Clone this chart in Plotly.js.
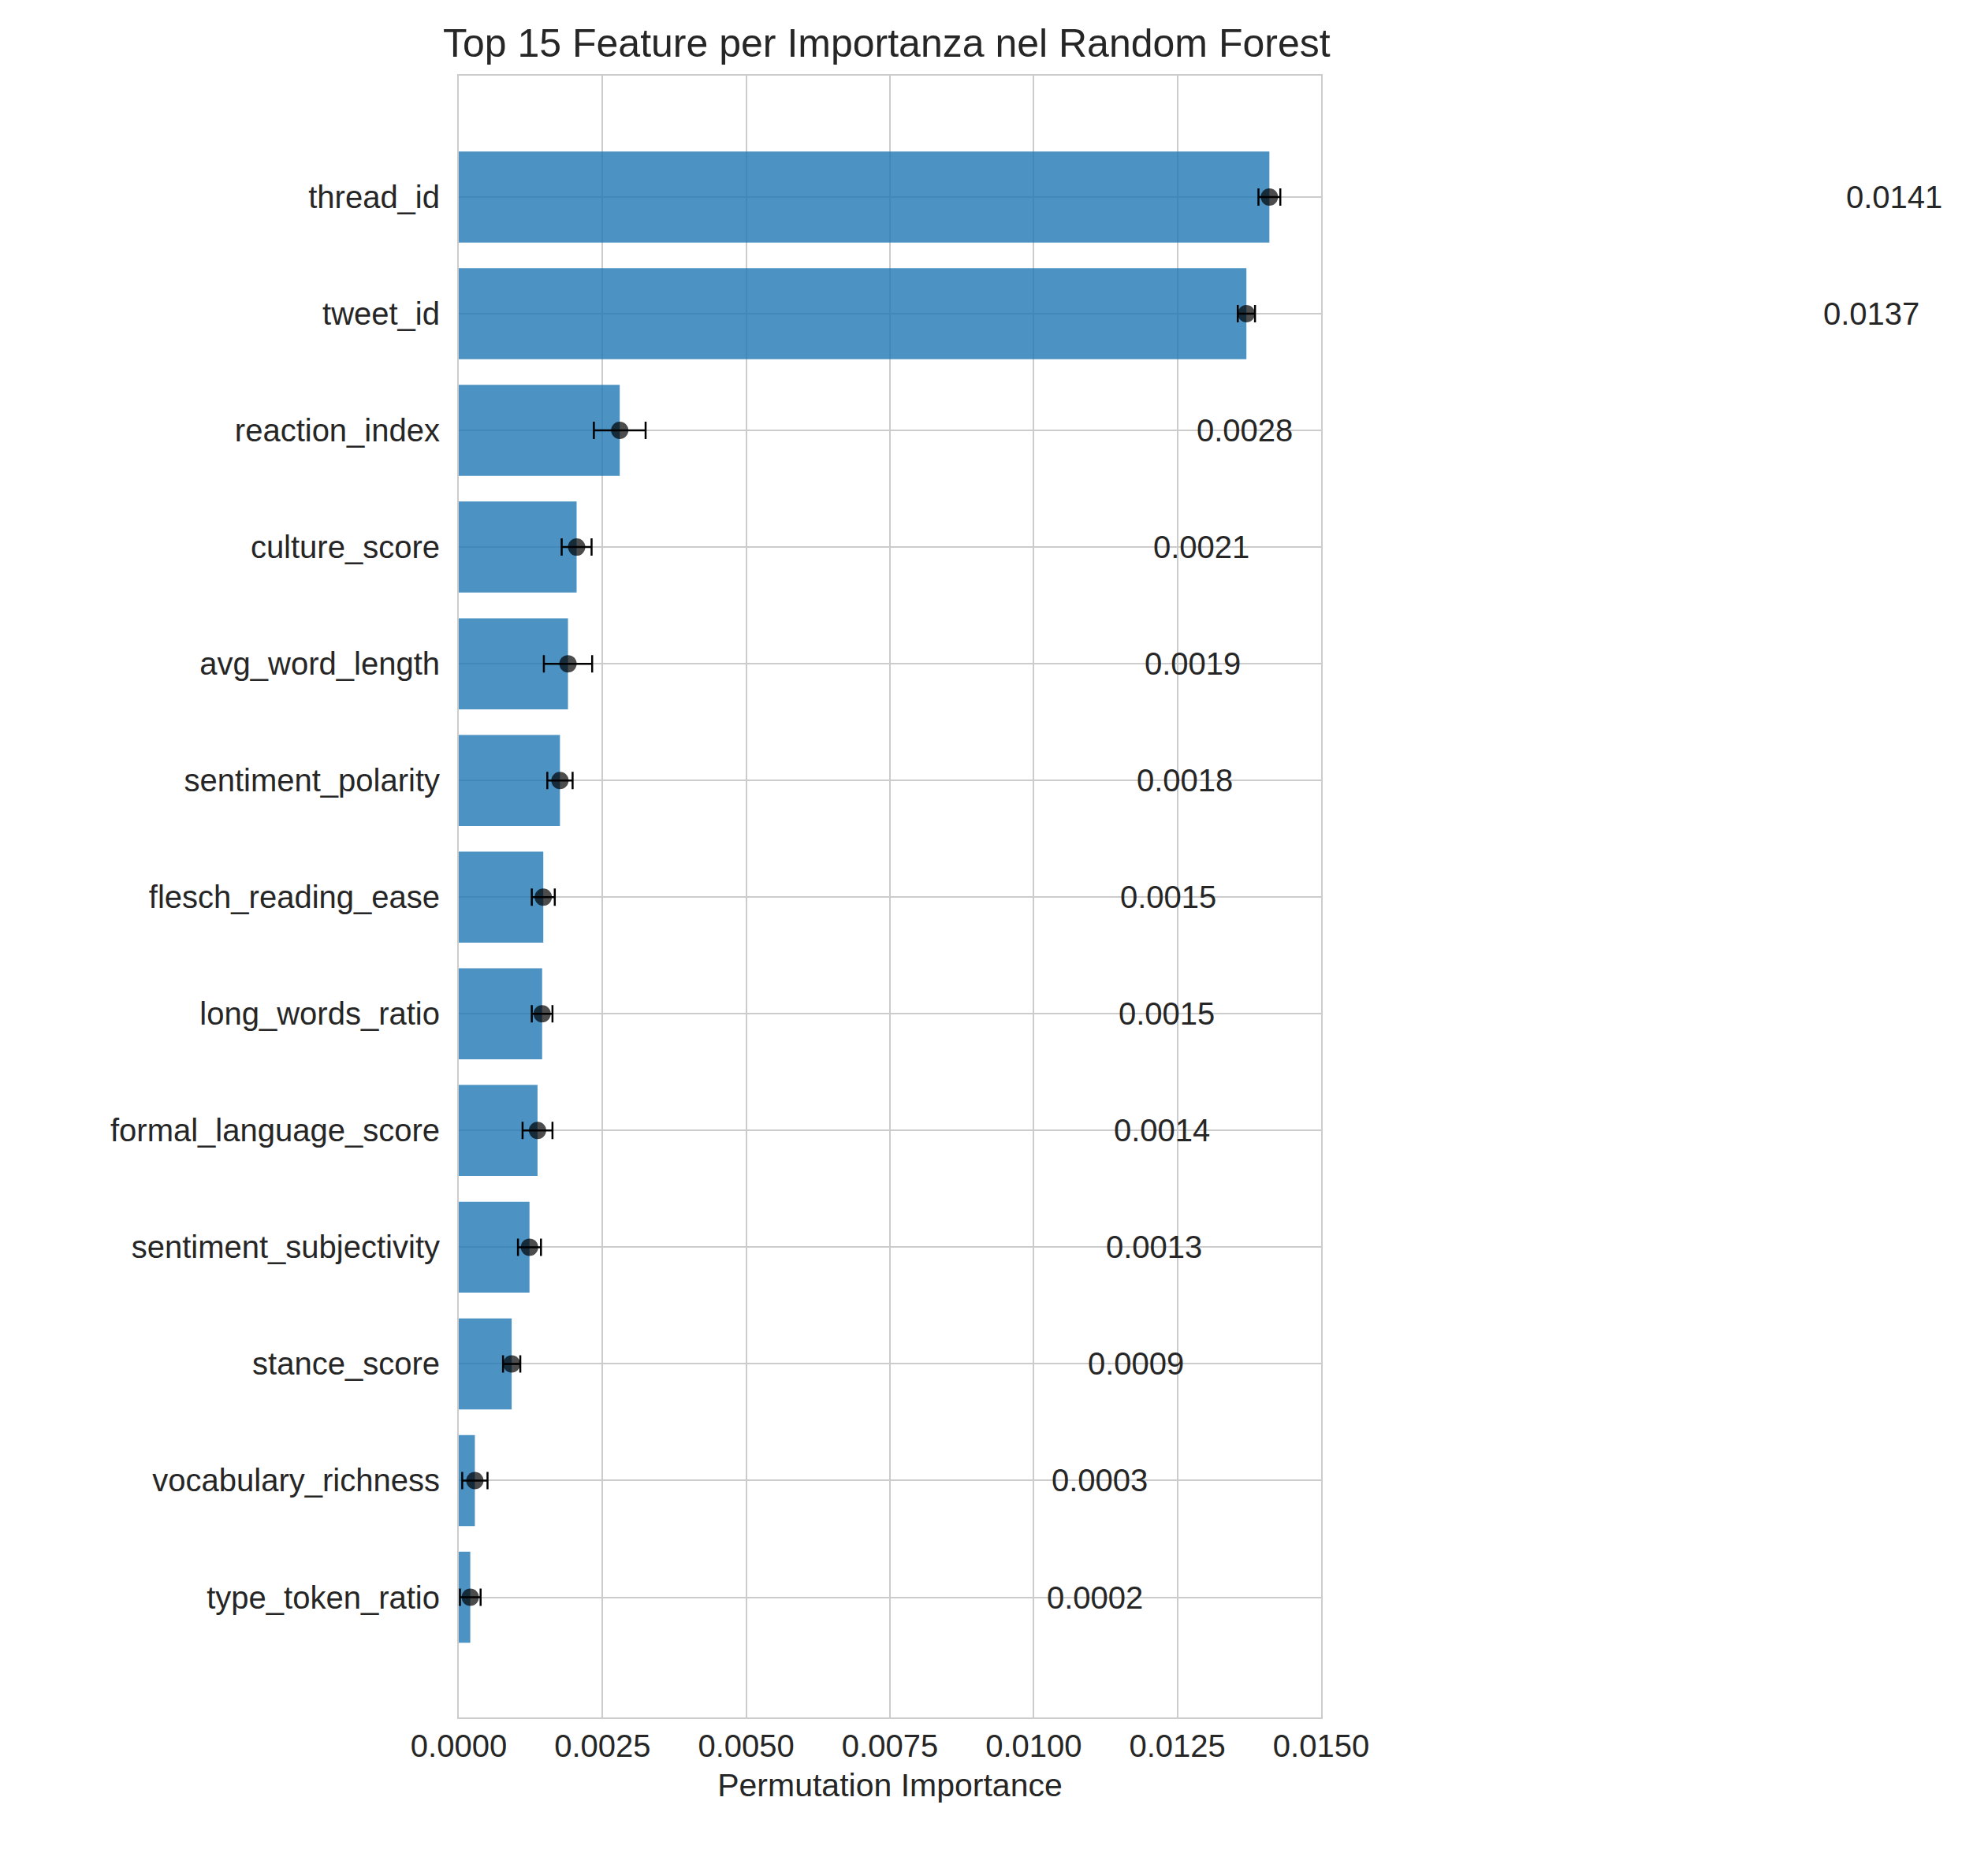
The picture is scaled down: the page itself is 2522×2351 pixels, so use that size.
<!DOCTYPE html>
<html>
<head>
<meta charset="utf-8">
<script src="https://cdn.plot.ly/plotly-3.0.1.min.js"></script>
<style>body{margin:0;background:#fff}#chart{width:2522px;height:2351px}</style>
</head>
<body>
<div id="chart"></div>
<script>
'use strict';

const features = ['thread_id', 'tweet_id', 'reaction_index', 'culture_score', 'avg_word_length',
  'sentiment_polarity', 'flesch_reading_ease', 'long_words_ratio', 'formal_language_score',
  'sentiment_subjectivity', 'stance_score', 'vocabulary_richness', 'type_token_ratio'];
const importance = [0.0141, 0.0137, 0.0028, 0.00205, 0.0019, 0.00176, 0.00147, 0.00145,
  0.00137, 0.00123, 0.00092, 0.00028, 0.0002];
const errors = [0.00019, 0.00015, 0.00045, 0.00026, 0.00042, 0.00022, 0.0002, 0.00018,
  0.00026, 0.0002, 0.00015, 0.00022, 0.00018];
const labels = ['0.0141', '0.0137', '0.0028', '0.0021', '0.0019', '0.0018', '0.0015', '0.0015',
  '0.0014', '0.0013', '0.0009', '0.0003', '0.0002'];
const xTicks = [0, 0.0025, 0.005, 0.0075, 0.01, 0.0125, 0.015];
const xTickText = ['0.0000', '0.0025', '0.0050', '0.0075', '0.0100', '0.0125', '0.0150'];
const xMax = 0.015;

const font = 'Liberation Sans, Arial, sans-serif';

const data = [{
  type: 'bar',
  orientation: 'h',
  x: importance,
  y: features,
  width: 0.78,
  marker: {color: '#1f77b4', opacity: 0.8},
  hoverinfo: 'skip'
}, {
  type: 'scatter',
  mode: 'markers',
  x: importance,
  y: features,
  marker: {color: 'rgba(0,0,0,0.7)', size: 22},
  error_x: {type: 'data', array: errors, color: '#000', thickness: 2.5, width: 11},
  hoverinfo: 'skip'
}];

// labels sit beyond the axis range, so place them in paper units
const annotations = features.map((f, i) => ({
  x: (importance[i] + 0.01) / xMax, y: f, xref: 'paper', yref: 'y',
  text: labels[i], showarrow: false, xanchor: 'left',
  font: {family: font, size: 40, color: '#262626'}
}));

const layout = {
  width: 2522, height: 2351,
  margin: {l: 582, r: 846, t: 96, b: 172},
  paper_bgcolor: '#fff', plot_bgcolor: '#fff',
  showlegend: false,
  font: {family: font, color: '#262626'},
  title: {text: 'Top 15 Feature per Importanza nel Random Forest', x: 0.446, xanchor: 'center',
    y: 0.977, yanchor: 'middle', font: {size: 50, color: '#262626'}},
  xaxis: {
    range: [0, xMax], tickvals: xTicks, ticktext: xTickText,
    tickfont: {size: 40}, showgrid: true, gridcolor: '#cccccc', gridwidth: 2,
    zeroline: false, showline: true, linecolor: '#cccccc', linewidth: 2, mirror: true,
    ticks: '', title: {text: 'Permutation Importance', font: {size: 41}, standoff: 14}
  },
  yaxis: {
    range: [12 + 1.03, -1.04], tickfont: {size: 40}, showgrid: true, gridcolor: '#cccccc',
    gridwidth: 2, showline: true, linecolor: '#cccccc', linewidth: 2, mirror: true,
    ticks: '', ticklabelstandoff: 14
  },
  annotations: annotations
};

Plotly.newPlot('chart', data, layout, {displayModeBar: false});
</script>
</body>
</html>
